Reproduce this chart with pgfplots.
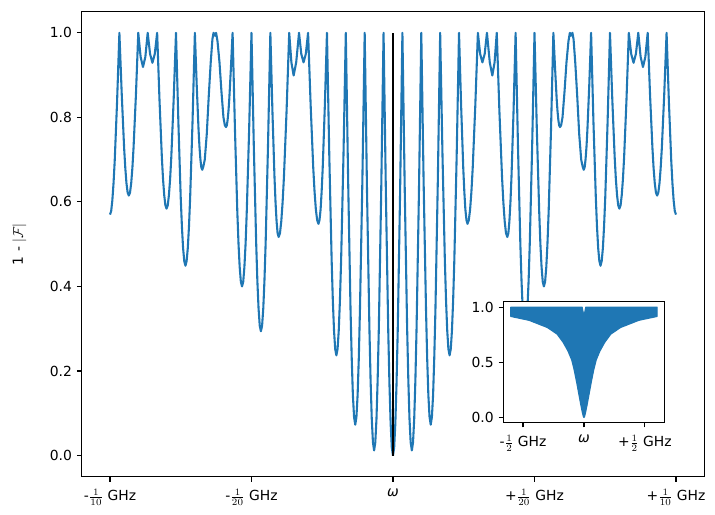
\documentclass[border=0pt]{standalone}
\usepackage{fontspec}
\setmainfont{DejaVu Sans}
\usepackage{pgfplots}
\usepackage{pgfplotstable}
\pgfplotsset{compat=1.18}
\definecolor{mplblue}{RGB}{31,119,180}

\pgfplotstableread{
x y
-0.10000 0.570
-0.09958 0.578
-0.09917 0.603
-0.09875 0.643
-0.09833 0.696
-0.09750 0.835
-0.09667 1.000
-0.09583 0.853
-0.09500 0.728
-0.09458 0.680
-0.09417 0.644
-0.09375 0.622
-0.09333 0.615
-0.09292 0.622
-0.09250 0.644
-0.09208 0.680
-0.09167 0.728
-0.09083 0.853
-0.09000 1.000
-0.08917 0.943
-0.08833 0.919
-0.08750 0.943
-0.08667 1.000
-0.08583 0.950
-0.08500 0.929
-0.08417 0.950
-0.08333 1.000
-0.08250 0.841
-0.08167 0.706
-0.08125 0.654
-0.08083 0.616
-0.08042 0.592
-0.08000 0.584
-0.07958 0.592
-0.07917 0.616
-0.07875 0.654
-0.07833 0.706
-0.07750 0.841
-0.07667 1.000
-0.07583 0.789
-0.07500 0.610
-0.07458 0.542
-0.07417 0.491
-0.07375 0.460
-0.07333 0.449
-0.07292 0.460
-0.07250 0.491
-0.07208 0.542
-0.07167 0.610
-0.07083 0.789
-0.07000 1.000
-0.06935 0.876
-0.06870 0.771
-0.06838 0.731
-0.06805 0.701
-0.06773 0.682
-0.06740 0.676
-0.06700 0.684
-0.06650 0.700
-0.06580 0.760
-0.06510 0.850
-0.06440 0.930
-0.06380 0.985
-0.06340 1.000
-0.06290 0.993
-0.06250 1.000
-0.06200 0.980
-0.06130 0.930
-0.06060 0.860
-0.05990 0.800
-0.05940 0.781
-0.05900 0.777
-0.05871 0.781
-0.05843 0.794
-0.05813 0.815
-0.05785 0.842
-0.05728 0.915
-0.05667 1.000
-0.05583 0.770
-0.05500 0.576
-0.05458 0.501
-0.05417 0.446
-0.05375 0.411
-0.05333 0.400
-0.05292 0.411
-0.05250 0.446
-0.05208 0.501
-0.05167 0.576
-0.05083 0.770
-0.05000 1.000
-0.04917 0.730
-0.04833 0.501
-0.04792 0.413
-0.04750 0.348
-0.04708 0.307
-0.04667 0.294
-0.04625 0.307
-0.04583 0.348
-0.04542 0.413
-0.04500 0.501
-0.04417 0.730
-0.04333 1.000
-0.04260 0.815
-0.04187 0.659
-0.04150 0.599
-0.04113 0.554
-0.04077 0.526
-0.04040 0.517
-0.03993 0.526
-0.03947 0.554
-0.03900 0.599
-0.03853 0.659
-0.03760 0.815
-0.03667 1.000
-0.03590 0.930
-0.03510 0.899
-0.03420 0.930
-0.03320 1.000
-0.03240 0.950
-0.03160 0.930
-0.03080 0.950
-0.03000 1.000
-0.02908 0.827
-0.02817 0.680
-0.02771 0.624
-0.02725 0.582
-0.02679 0.557
-0.02633 0.548
-0.02596 0.557
-0.02558 0.582
-0.02521 0.624
-0.02483 0.680
-0.02408 0.827
-0.02333 1.000
-0.02250 0.708
-0.02167 0.461
-0.02125 0.366
-0.02083 0.295
-0.02042 0.252
-0.02000 0.237
-0.01958 0.252
-0.01917 0.295
-0.01875 0.366
-0.01833 0.461
-0.01750 0.708
-0.01667 1.000
-0.01583 0.645
-0.01500 0.345
-0.01458 0.230
-0.01417 0.143
-0.01375 0.091
-0.01333 0.073
-0.01292 0.091
-0.01250 0.143
-0.01208 0.230
-0.01167 0.345
-0.01083 0.645
-0.01000 1.000
-0.00917 0.622
-0.00833 0.301
-0.00792 0.179
-0.00750 0.087
-0.00708 0.031
-0.00667 0.012
-0.00625 0.031
-0.00583 0.087
-0.00542 0.179
-0.00500 0.301
-0.00417 0.622
-0.00333 1.000
-0.00250 0.617
-0.00167 0.293
-0.00125 0.169
-0.00083 0.076
-0.00042 0.019
0.00000 0.000
}\lefthalf

\begin{document}
\begin{tikzpicture}
\begin{axis}[
  scale only axis,
  width=448.3pt, height=334.8pt,
  xmin=-0.11, xmax=0.11, ymin=-0.05, ymax=1.05,
  axis line style={line width=0.8pt, black},
  every tick/.style={black, line width=0.8pt},
  tick align=outside, major tick length=3.5pt,
  xtick={-0.1,-0.05,0,0.05,0.1},
  xticklabels={-$\frac{1}{10}$ GHz, -$\frac{1}{20}$ GHz, {\itshape ω}, +$\frac{1}{20}$ GHz, +$\frac{1}{10}$ GHz},
  xticklabel style={yshift=-2pt},
  ytick={0,0.2,0.4,0.6,0.8,1.0},
  yticklabel style={/pgf/number format/.cd, fixed, fixed zerofill, precision=1, assume math mode=true},
  tick label style={font=\fontsize{10}{12}\selectfont},
  xtick pos=bottom, ytick pos=left,
  ylabel={1 - $|\mathcal{F}|$},
  ylabel style={yshift=10pt},
  label style={font=\fontsize{10}{12}\selectfont},
  clip=true,
]
\addplot[mplblue, line width=1.5pt, line join=round] table[x=x, y=y] {\lefthalf};
\addplot[mplblue, line width=1.5pt, line join=round] table[x expr=-\thisrow{x}, y=y] {\lefthalf};
\addplot[black, line width=1.5pt] coordinates {(0,0) (0,1)};
\coordinate (bbsw) at (rel axis cs:0,0);
\coordinate (bbne) at (rel axis cs:1,1);
\coordinate (insetpos) at (axis cs:0.03904,0.0781);
\end{axis}
\begin{axis}[
  at={(insetpos)}, anchor=south west,
  scale only axis,
  width=115.9pt, height=87.1pt,
  xmin=-0.66, xmax=0.66, ymin=-0.045, ymax=1.05,
  axis background/.style={fill=white},
  axis line style={line width=0.8pt, black},
  every tick/.style={black, line width=0.8pt},
  tick align=outside, major tick length=3.5pt,
  xtick={-0.5,0,0.5},
  xticklabels={-$\frac{1}{2}$ GHz, {\itshape ω}, +$\frac{1}{2}$ GHz},
  xticklabel style={yshift=-2pt},
  ytick={0,0.5,1.0},
  yticklabel style={/pgf/number format/.cd, fixed, fixed zerofill, precision=1, assume math mode=true},
  tick label style={font=\fontsize{10}{12}\selectfont},
  xtick pos=bottom, ytick pos=left,
]
\addplot[mplblue, fill=mplblue, line width=0.8pt, line join=round] coordinates {
(-0.6,1.0) (-0.015,1.0) (-0.006,0.95) (0,0.91) (0.006,0.95) (0.015,1.0) (0.6,1.0)
(0.6,0.915) (0.45,0.88) (0.30,0.815) (0.22,0.755) (0.17,0.68) (0.13,0.60) (0.10,0.52)
(0.08,0.43) (0.06,0.32) (0.04,0.20) (0.025,0.11) (0.012,0.04) (0.005,0.01) (0,0)
(-0.005,0.01) (-0.012,0.04) (-0.025,0.11) (-0.04,0.20) (-0.06,0.32) (-0.08,0.43)
(-0.10,0.52) (-0.13,0.60) (-0.17,0.68) (-0.22,0.755) (-0.30,0.815) (-0.45,0.88)
(-0.6,0.915)
} -- cycle;
\end{axis}
\pgfresetboundingbox
\path[use as bounding box] ([xshift=-58.8pt,yshift=-26.9pt]bbsw) rectangle ([xshift=7.7pt,yshift=8.4pt]bbne);
\end{tikzpicture}
\end{document}
